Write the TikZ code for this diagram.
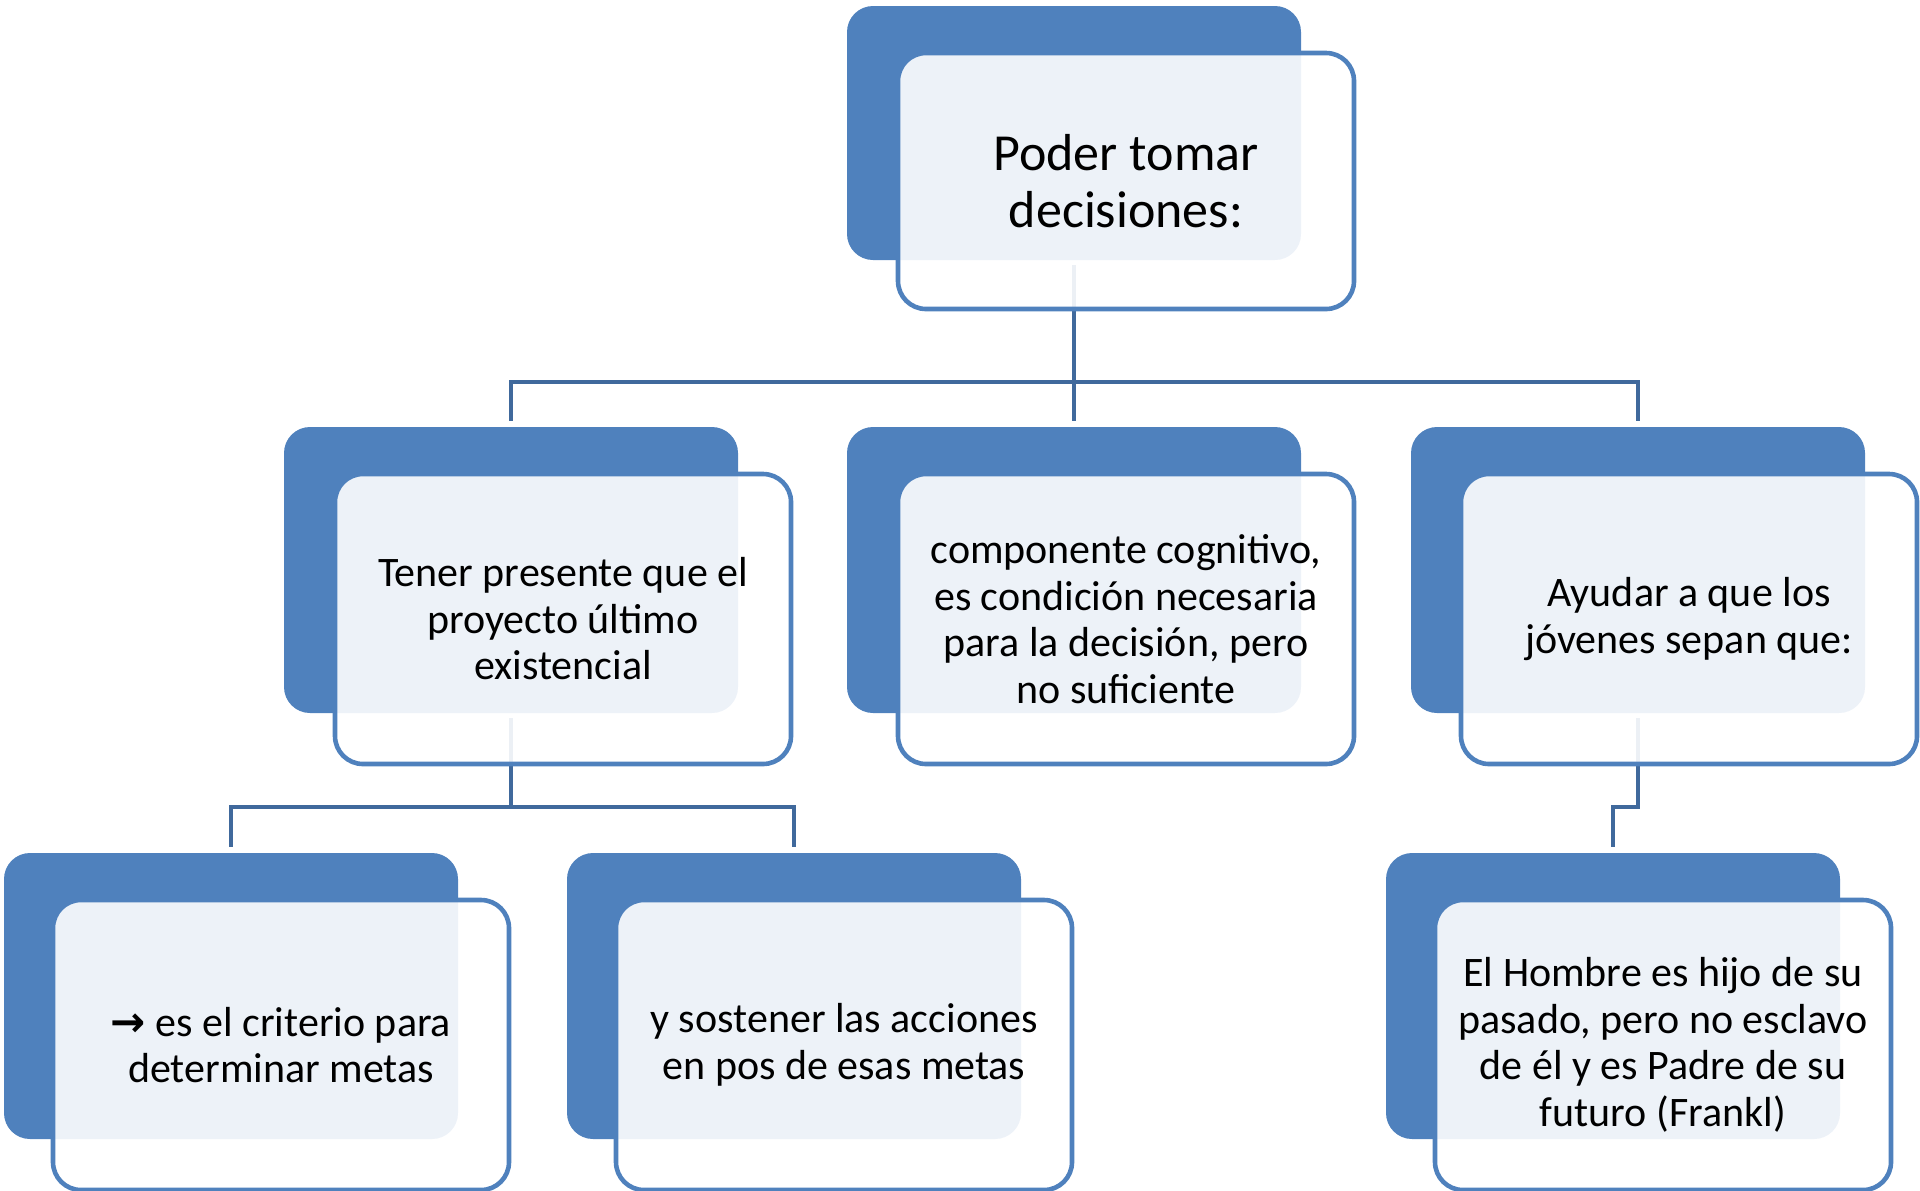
\documentclass[tikz,border=0pt]{standalone}
\usepackage{fontspec}
\setmainfont{Carlito}
\newfontfamily\arrowfont{DejaVu Sans Bold}
\usetikzlibrary{calc}
\definecolor{accent}{RGB}{79,129,189}
\definecolor{connc}{RGB}{64,105,156}
\begin{document}
\begin{tikzpicture}[x=0.5pt,y=-0.5pt,
 backbox/.style={rectangle,rounded corners=13pt,fill=accent,minimum width=227pt,minimum height=143pt,anchor=north west,inner sep=0pt,outer sep=0pt},
 frontbox/.style={rectangle,rounded corners=14pt,fill=white,fill opacity=0.9,text opacity=1,draw=accent,line width=2.3pt,minimum width=228pt,minimum height=145pt,anchor=north west,align=center,inner sep=0pt,outer sep=0pt,font=\fontsize{21}{23.25}\selectfont},
 conn/.style={draw=connc,line width=2pt}]
\useasboundingbox (0,0) rectangle (1920,1190);
% back boxes
\node[backbox,minimum height=127pt] (b0) at (847,6) {};
\node[backbox] (b1) at (284,427) {};
\node[backbox] (b2) at (847,427) {};
\node[backbox] (b3) at (1411,427) {};
\node[backbox] (b4) at (4,853) {};
\node[backbox] (b5) at (567,853) {};
\node[backbox] (b6) at (1386,853) {};
% connectors
\draw[conn] ($(b0.south)+(0,5)$) |- ($(b1.north)+(0,-45)$) -- ($(b1.north)+(0,-6)$);
\draw[conn] ($(b0.south)+(0,5)$) -- ($(b2.north)+(0,-6)$);
\draw[conn] ($(b0.south)+(0,5)$) |- ($(b3.north)+(0,-45)$) -- ($(b3.north)+(0,-6)$);
\draw[conn] ($(b1.south)+(0,5)$) |- ($(b4.north)+(0,-46)$) -- ($(b4.north)+(0,-6)$);
\draw[conn] ($(b1.south)+(0,5)$) |- ($(b5.north)+(0,-46)$) -- ($(b5.north)+(0,-6)$);
\draw[conn] ($(b3.south)+(0,5)$) |- ($(b6.north)+(0,-46)$) -- ($(b6.north)+(0,-6)$);
% front boxes
\node[frontbox,minimum height=128pt,font=\fontsize{26}{28.75}\selectfont] (f0) at (898,53) {Poder tomar\\decisiones:};
\node[frontbox] (f1) at (335,474) {Tener presente que el\\proyecto último\\existencial};
\node[frontbox] (f2) at (898,474) {componente cognitivo,\\es condición necesaria\\para la decisión, pero\\no suficiente};
\node[frontbox] (f3) at (1461,474) {Ayudar a que los\\jóvenes sepan que:};
\node[frontbox,minimum height=145pt] (f4) at (53,900) {{\arrowfont →} es el criterio para\\determinar metas};
\node[frontbox,minimum height=145pt] (f5) at (616,900) {y sostener las acciones\\en pos de esas metas};
\node[frontbox,minimum height=145pt] (f6) at (1435,900) {El Hombre es hijo de su\\pasado, pero no esclavo\\de él y es Padre de su\\futuro (Frankl)};
\end{tikzpicture}
\end{document}
